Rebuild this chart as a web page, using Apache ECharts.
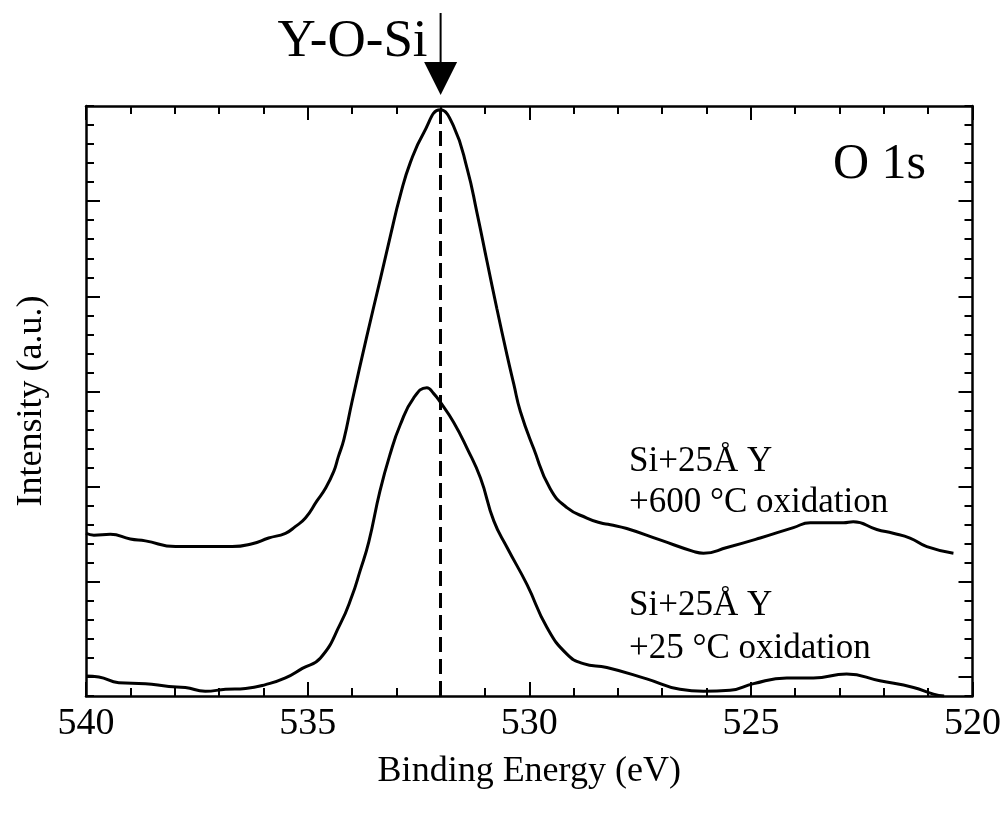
<!DOCTYPE html>
<html>
<head>
<meta charset="utf-8">
<script src="https://cdn.jsdelivr.net/npm/echarts@6/dist/echarts.min.js"></script>
<style>
  html, body { margin: 0; padding: 0; background: #fff; }
  #main { width: 1004px; height: 817px; }
</style>
</head>
<body>
<div id="main"></div>
<script>
// O 1s spectrum, Si + 25 A Y oxidised at 600 C (upper trace)
const energy600 = [540.00, 539.82, 539.45, 539.00, 538.66, 537.98, 537.53, 536.70, 536.25, 535.88,
  535.50, 535.28, 535.05, 534.79, 534.60, 534.41, 534.31, 534.18, 534.00, 533.66,
  533.36, 533.13, 532.91, 532.68, 532.38, 532.01, 531.71, 531.40, 531.18, 530.95,
  530.73, 530.50, 530.35, 530.20, 529.90, 529.53, 529.15, 528.70, 528.40, 528.17,
  527.80, 527.05, 526.30, 526.07, 525.54, 524.79, 524.04, 523.66, 522.91, 522.69,
  522.16, 521.79, 521.41, 521.03, 520.43];
const intensity600 = [1.51, 1.49, 1.50, 1.45, 1.43, 1.37, 1.37, 1.37, 1.40, 1.46,
  1.51, 1.58, 1.67, 1.85, 1.98, 2.16, 2.31, 2.50, 2.89, 3.59,
  4.18, 4.64, 5.06, 5.41, 5.72, 5.96, 5.79, 5.34, 4.88, 4.36,
  3.87, 3.38, 3.08, 2.79, 2.40, 1.98, 1.78, 1.67, 1.62, 1.60,
  1.56, 1.44, 1.32, 1.30, 1.36, 1.46, 1.57, 1.62, 1.62, 1.63,
  1.55, 1.51, 1.46, 1.37, 1.30];

// same film oxidised at 25 C (lower trace)
const energy25 = [540.00, 539.71, 539.26, 538.66, 538.13, 537.76, 537.31, 536.85, 536.40, 535.95,
  535.50, 535.12, 534.71, 534.26, 534.00, 533.82, 533.62, 533.37, 533.14, 532.91,
  532.61, 532.31, 532.16, 532.01, 531.71, 531.40, 531.10, 530.80, 530.50, 530.05,
  529.60, 529.15, 528.78, 528.25, 527.35, 526.60, 526.07, 525.47, 524.94, 524.19,
  523.59, 522.84, 522.09, 521.33, 520.88, 520.64];
const intensity25 = [0.01, 0.00, -0.06, -0.07, -0.10, -0.11, -0.15, -0.13, -0.12, -0.08,
  -0.01, 0.09, 0.20, 0.56, 0.85, 1.11, 1.42, 1.95, 2.34, 2.65,
  2.93, 3.04, 2.98, 2.89, 2.68, 2.40, 2.09, 1.64, 1.36, 0.97,
  0.52, 0.24, 0.14, 0.10, -0.02, -0.13, -0.15, -0.14, -0.07, -0.01,
  -0.01, 0.03, -0.04, -0.11, -0.18, -0.20];

const majorTicksY = [0, 1, 2, 3, 4, 5];
const peakEnergy = 532.0; // Y-O-Si position

const serif = "'Liberation Serif', 'Times New Roman', serif";
const black = "#000";

const chart = echarts.init(document.getElementById("main"));

const frameLine = { show: true, onZero: false, lineStyle: { color: black, width: 2.5 } };
const tickStyle = { color: black, width: 2 };

function xAxisFor(position, withLabels) {
  return {
    type: "value",
    position: position,
    min: 520,
    max: 540,
    interval: 5,
    inverse: true,
    axisLine: frameLine,
    axisTick: { show: true, inside: true, length: 14, lineStyle: tickStyle },
    minorTick: { show: true, splitNumber: 5, length: 8, lineStyle: tickStyle },
    splitLine: { show: false },
    minorSplitLine: { show: false },
    axisLabel: {
      show: withLabels,
      margin: 9,
      color: black,
      fontFamily: serif,
      fontSize: 38,
    },
    name: withLabels ? "Binding Energy (eV)" : "",
    nameLocation: "middle",
    nameGap: 58,
    nameTextStyle: { color: black, fontFamily: serif, fontSize: 36 },
  };
}

function yAxisFor(position, major) {
  const axis = {
    type: "value",
    position: position,
    min: -0.2,
    max: 6,
    axisLine: major ? { show: false } : frameLine,
    axisTick: { show: true, inside: true, length: major ? 14 : 8, lineStyle: tickStyle },
    axisLabel: { show: false },
    splitLine: { show: false },
  };
  if (major) {
    axis.axisTick.customValues = majorTicksY;
  } else {
    axis.interval = 0.2;
  }
  if (position === "left" && !major) {
    axis.name = "Intensity (a.u.)";
    axis.nameLocation = "middle";
    axis.nameGap = 36;
    axis.nameTextStyle = { color: black, fontFamily: serif, fontSize: 36 };
  }
  return axis;
}

function pairs(xs, ys) {
  return xs.map((x, i) => [x, ys[i]]);
}

chart.setOption({
  animation: false,
  backgroundColor: "#fff",
  grid: { left: 86, right: 31, top: 106, bottom: 121 },
  xAxis: [xAxisFor("bottom", true), xAxisFor("top", false)],
  yAxis: [yAxisFor("left", false), yAxisFor("right", false), yAxisFor("left", true), yAxisFor("right", true)],
  series: [
    {
      type: "line",
      xAxisIndex: 0,
      yAxisIndex: 0,
      data: pairs(energy600, intensity600),
      showSymbol: false,
      smooth: 0.5,
      silent: true,
      lineStyle: { color: black, width: 3 },
      markLine: {
        silent: true,
        symbol: "none",
        label: { show: false },
        lineStyle: { color: black, width: 3, type: [15, 7] },
        data: [{ xAxis: peakEnergy }],
      },
    },
    {
      type: "line",
      xAxisIndex: 0,
      yAxisIndex: 0,
      data: pairs(energy25, intensity25),
      showSymbol: false,
      smooth: 0.5,
      silent: true,
      lineStyle: { color: black, width: 3 },
    },
  ],
});

// arrow + annotations
const ax = chart.convertToPixel({ xAxisIndex: 0 }, peakEnergy);
const textStyle = (text, size, align) => ({
  text: text,
  fontFamily: serif,
  fontSize: size,
  fill: black,
  align: align || "left",
  verticalAlign: "middle",
});

chart.setOption({
  graphic: [
    { type: "line", silent: true, shape: { x1: ax, y1: 13, x2: ax, y2: 64 }, style: { stroke: black, lineWidth: 2 } },
    { type: "polygon", silent: true, shape: { points: [[ax - 16.5, 62], [ax + 16.5, 62], [ax, 95]] }, style: { fill: black } },
    { type: "text", silent: true, x: ax - 13, y: 42, style: textStyle("Y-O-Si", 53, "right") },
    { type: "text", silent: true, x: 833, y: 165, style: textStyle("O 1s", 50) },
    { type: "text", silent: true, x: 629, y: 462, style: textStyle("Si+25Å Y", 35) },
    { type: "text", silent: true, x: 629, y: 503, style: textStyle("+600 °C oxidation", 35) },
    { type: "text", silent: true, x: 629, y: 606, style: textStyle("Si+25Å Y", 35) },
    { type: "text", silent: true, x: 629, y: 649, style: textStyle("+25 °C oxidation", 35) },
  ],
});

window.onresize = () => {
  chart.resize();
};
</script>
</body>
</html>
